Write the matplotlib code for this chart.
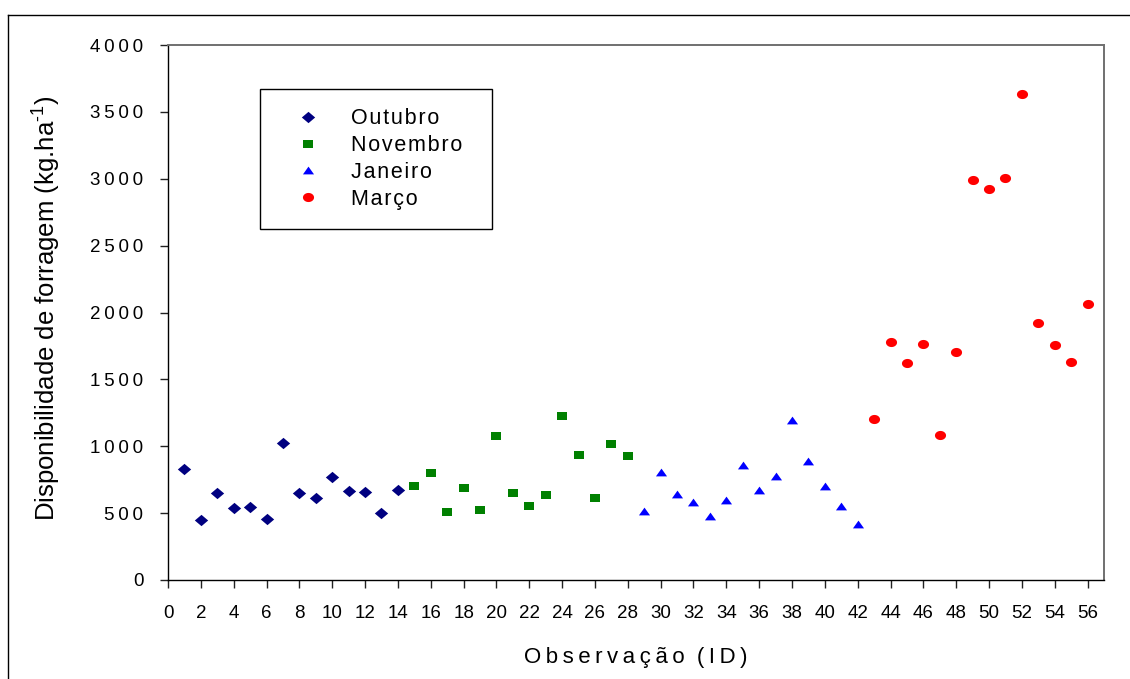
import matplotlib
matplotlib.use("Agg")
import matplotlib.pyplot as plt
from matplotlib.lines import Line2D
import numpy as np

plt.rcParams['font.family'] = ['Liberation Sans', 'DejaVu Sans']
plt.rcParams['mathtext.fontset'] = 'custom'
plt.rcParams['mathtext.rm'] = 'Liberation Sans'
plt.rcParams['mathtext.it'] = 'Liberation Sans:italic'

# ---- data ----
ids_out = list(range(1, 15))
outubro = [832, 451, 653, 541, 546, 459, 1022, 650, 610, 770, 668, 660, 501, 675]
ids_nov = list(range(15, 29))
novembro = [705, 800, 511, 690, 521, 1077, 650, 556, 638, 1226, 937, 610, 1014, 930]
ids_jan = list(range(29, 43))
janeiro = [518, 811, 645, 586, 480, 598, 863, 673, 775, 1195, 889, 700, 552, 417]
ids_mar = list(range(43, 57))
marco = [1204, 1777, 1620, 1764, 1087, 1707, 2993, 2921, 3003, 3636, 1921, 1754, 1632, 2061]

series_names = ["Outubro", "Novembro", "Janeiro", "Março"]
xticks = list(range(0, 57, 2))
yticks = list(range(0, 4001, 500))

THIN = "\u2009"
HAIR = "\u200a"
def spaced(s, sep=THIN):
    return sep.join(list(s))

# ---- custom marker shapes (slightly wide, as in reference) ----
diamond = [(0, 0.85), (1, 0), (0, -0.85), (-1, 0), (0, 0.85)]
square = [(-1, -0.9), (1, -0.9), (1, 0.9), (-1, 0.9), (-1, -0.9)]
tri = [(-1, -0.7), (1, -0.7), (0, 0.7), (-1, -0.7)]
th = np.linspace(0, 2 * np.pi, 40)
ellipse = list(zip(np.cos(th), 0.82 * np.sin(th)))

W, H = 1130, 679
fig = plt.figure(figsize=(W / 100, H / 100), dpi=100)
ax = fig.add_axes([168 / W, (H - 580) / H, (1104 - 168) / W, 535 / H])

ms = dict(linestyle='none', markeredgewidth=0)
ax.plot(ids_out, outubro, marker=diamond, markersize=9.6, color='#000080', label=spaced(series_names[0], HAIR), **ms)
ax.plot(ids_nov, novembro, marker=square, markersize=7.0, color='#008000', label=spaced(series_names[1], HAIR), **ms)
ax.plot(ids_jan, janeiro, marker=tri, markersize=8.0, color='#0000FF', label=spaced(series_names[2], HAIR), **ms)
ax.plot(ids_mar, marco, marker=ellipse, markersize=8.0, color='#FF0000', label=spaced(series_names[3], HAIR), **ms)

ax.set_xlim(0, 57)
ax.set_ylim(0, 4000)
ax.set_xticks(xticks)
ax.set_xticklabels([str(v) for v in xticks])
ax.set_yticks(yticks)
ax.set_yticklabels([spaced(str(v)) for v in yticks])
ax.tick_params(axis='both', direction='out', length=5.8, width=1, color='#222222',
               labelsize=13.5, pad=12)
ax.tick_params(axis='x', top=False)
ax.tick_params(axis='y', right=False)

for side in ['left', 'bottom']:
    ax.spines[side].set_color('black')
    ax.spines[side].set_linewidth(1.0)
for side in ['top', 'right']:
    ax.spines[side].set_color('#707070')
    ax.spines[side].set_linewidth(1.4)

ax.set_xlabel(spaced("Observação") + "  " + spaced("(ID)"), fontsize=16)
ax.xaxis.set_label_coords(0.5, -0.1245)
ax.set_ylabel(r"Disponibilidade de forragem (kg.ha$^{\text{-1}}$)", fontsize=18.5)
ax.yaxis.set_label_coords(-0.1125, 0.5075)

leg = ax.legend(loc='upper left', bbox_to_anchor=(92 / 936, 0.5, 232 / 936, 0.4178),
                mode='expand', borderaxespad=0, fontsize=15.5, frameon=True,
                fancybox=False, shadow=False, borderpad=0.9, handlelength=2.7,
                handletextpad=0.62, labelspacing=0.27)
leg.get_frame().set_edgecolor('black')
leg.get_frame().set_linewidth(1.0)
leg.get_frame().set_alpha(1)

# outer frame of the figure (left and top edges visible)
x0 = 8 / W
y0 = 1 - 15 / H
fig.add_artist(Line2D([x0, x0], [0, y0], color='black', linewidth=1.0, transform=fig.transFigure))
fig.add_artist(Line2D([x0, 1], [y0, y0], color='black', linewidth=1.0, transform=fig.transFigure))

fig.savefig("out.png", dpi=100)
